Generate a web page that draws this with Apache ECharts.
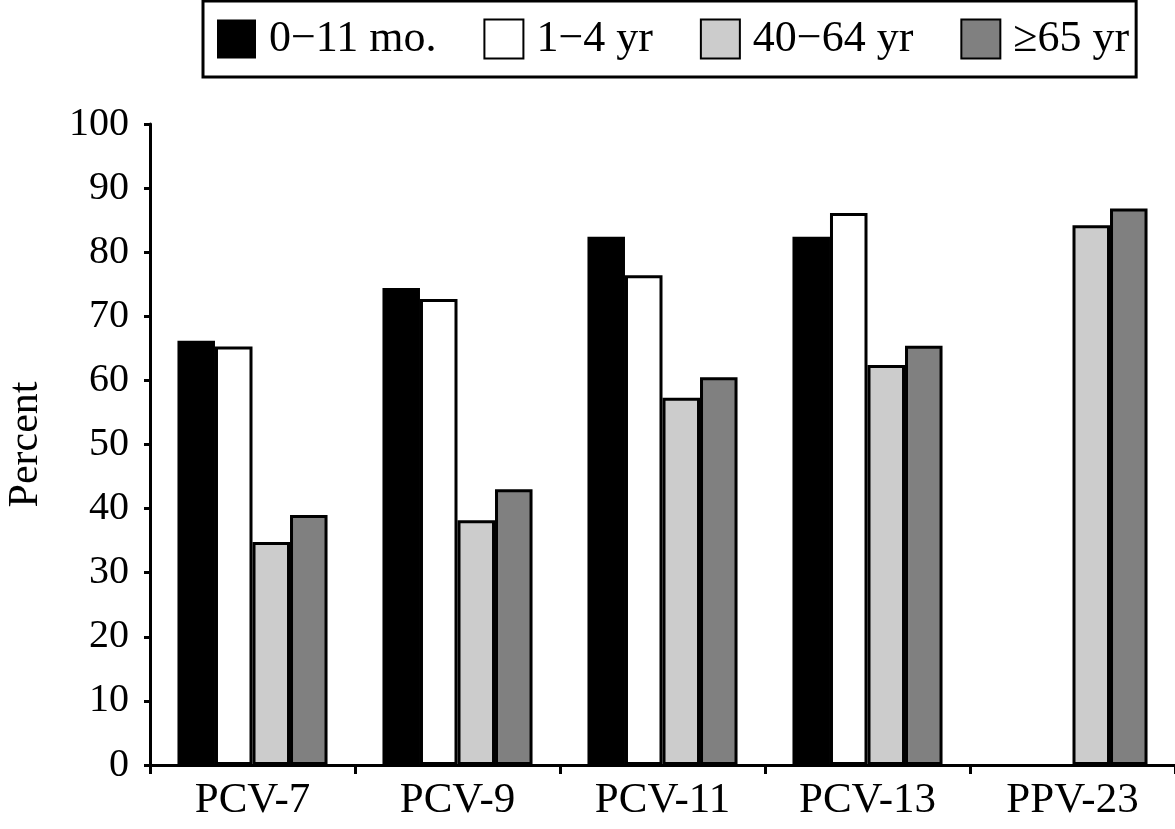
<!DOCTYPE html>
<html>
<head>
<meta charset="utf-8">
<script src="https://cdn.jsdelivr.net/npm/echarts@6/dist/echarts.min.js"></script>
<style>
html,body{margin:0;padding:0;background:#fff;}
#chart{width:1175px;height:829px;}
</style>
</head>
<body>
<div id="chart"></div>
<script>
var categories = ['PCV-7', 'PCV-9', 'PCV-11', 'PCV-13', 'PPV-23'];
var seriesNames = ['0\u221211 mo.', '1\u22124 yr', '40\u221264 yr', '\u226565 yr'];
var infant = [66.2, 74.4, 82.4, 82.4, null];
var child = [65.3, 72.7, 76.4, 86.1, null];
var adult = [34.8, 38.2, 57.3, 62.4, 84.2];
var senior = [39.0, 43.0, 60.5, 65.4, 86.8];
var yTicks = [0, 10, 20, 30, 40, 50, 60, 70, 80, 90, 100];

var FONT = 'Liberation Serif';
var chart = echarts.init(document.getElementById('chart'));

function barSeries(name, data, color, border) {
  return {
    name: name,
    type: 'bar',
    data: data,
    barGap: '0%',
    barCategoryGap: '26.8%',
    itemStyle: {
      color: color,
      borderColor: '#000',
      borderWidth: border
    },
    emphasis: { disabled: true },
    animation: false
  };
}

chart.setOption({
  animation: false,
  backgroundColor: '#fff',
  textStyle: { fontFamily: FONT },
  legend: {
    left: 203,
    top: 1,
    orient: 'horizontal',
    padding: [16, 7, 16, 14],
    borderColor: '#000',
    borderWidth: 3,
    itemWidth: 39,
    itemHeight: 39,
    itemGap: 47,
    selectedMode: false,
    textStyle: {
      fontFamily: FONT,
      fontSize: 44,
      color: '#000',
      padding: [0, 0, 0, 8]
    },
    data: seriesNames.map(function (n) { return { name: n, icon: 'rect' }; })
  },
  grid: { left: 150, right: 0, top: 124, bottom: 64, containLabel: false, outerBoundsMode: 'none' },
  xAxis: {
    type: 'category',
    data: categories,
    boundaryGap: true,
    axisLine: { show: true, lineStyle: { color: '#000', width: 3 } },
    axisTick: { show: true, alignWithLabel: false, length: 9, lineStyle: { color: '#000', width: 3 } },
    axisLabel: { fontFamily: FONT, fontSize: 43, color: '#000', margin: 14 },
    splitLine: { show: false }
  },
  yAxis: {
    type: 'value',
    min: 0,
    max: 100,
    interval: 10,
    name: 'Percent',
    nameLocation: 'middle',
    nameGap: 103,
    nameRotate: 90,
    nameTextStyle: { fontFamily: FONT, fontSize: 42, color: '#000' },
    axisLine: { show: true, lineStyle: { color: '#000', width: 3 } },
    axisTick: { show: true, length: 6, lineStyle: { color: '#000', width: 3 } },
    axisLabel: {
      fontFamily: FONT, fontSize: 40, color: '#000', margin: 21,
      formatter: function (v) { return yTicks.indexOf(v) >= 0 ? String(v) : ''; }
    },
    splitLine: { show: false }
  },
  series: [
    barSeries(seriesNames[0], infant, '#000000', 0),
    barSeries(seriesNames[1], child, '#ffffff', 3),
    barSeries(seriesNames[2], adult, '#cccccc', 3),
    barSeries(seriesNames[3], senior, '#808080', 3)
  ]
});
</script>
</body>
</html>
